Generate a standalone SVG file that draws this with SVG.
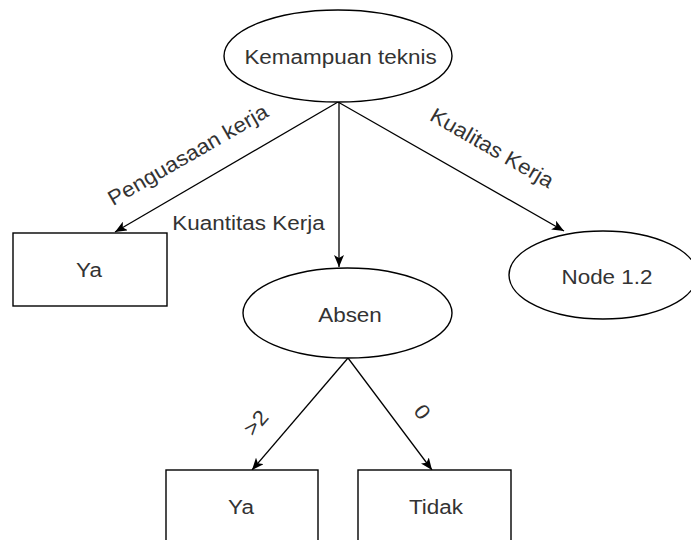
<svg xmlns="http://www.w3.org/2000/svg" width="691" height="540" viewBox="0 0 691 540">
  <style>
    .shape { fill: #ffffff; stroke: #000000; stroke-width: 1.4; }
    .edge { fill: none; stroke: #000000; stroke-width: 1.3; marker-end: url(#arrow); }
    .label { font-family: "Liberation Sans", Arial, sans-serif; font-size: 21px; fill: #333333; text-anchor: middle; }
  </style>
  <defs>
    <marker id="arrow" viewBox="0 0 12 10" refX="12" refY="5" markerWidth="12" markerHeight="10" markerUnits="userSpaceOnUse" orient="auto">
      <path d="M0,0 L12,5 L0,10 L3,5 Z" fill="#000000"/>
    </marker>
  </defs>
  <rect width="691" height="540" fill="#ffffff"/>

  <!-- connectors with their branch labels -->
  <g id="connectors">
    <line class="edge" x1="338" y1="102" x2="115" y2="232"/>
    <line class="edge" x1="339" y1="102" x2="339" y2="267"/>
    <line class="edge" x1="338" y1="102" x2="564" y2="231"/>
    <line class="edge" x1="348" y1="358" x2="252" y2="470"/>
    <line class="edge" x1="348" y1="358" x2="432" y2="470"/>
    <text class="label" transform="translate(188,155) rotate(-30) scale(1.07,1)" y="7">Penguasaan kerja</text>
    <text class="label" transform="translate(248.5,230) scale(1.07,1)">Kuantitas Kerja</text>
    <text class="label" transform="translate(492,148) rotate(30) scale(1.07,1)" y="7">Kualitas Kerja</text>
    <text class="label" transform="translate(256,423) rotate(-49) scale(1.07,1)" y="7">&gt;2</text>
    <text class="label" transform="translate(422,412) rotate(53) scale(1.07,1)" y="7">0</text>
  </g>

  <g id="node-kemampuan">
    <ellipse class="shape" cx="338" cy="56" rx="114" ry="46"/>
    <text class="label" transform="translate(340.5,64) scale(1.07,1)">Kemampuan teknis</text>
  </g>

  <g id="node-ya-1">
    <rect class="shape" x="13" y="233" width="154" height="73"/>
    <text class="label" transform="translate(89,277) scale(1.07,1)">Ya</text>
  </g>

  <g id="node-absen">
    <ellipse class="shape" cx="347.5" cy="313" rx="104.5" ry="45"/>
    <text class="label" transform="translate(350,322) scale(1.07,1)">Absen</text>
  </g>

  <g id="node-1-2">
    <ellipse class="shape" cx="603" cy="275" rx="94" ry="44"/>
    <text class="label" transform="translate(607,284) scale(1.07,1)">Node 1.2</text>
  </g>

  <g id="node-ya-2">
    <rect class="shape" x="166" y="470" width="152" height="73"/>
    <text class="label" transform="translate(241,514) scale(1.07,1)">Ya</text>
  </g>

  <g id="node-tidak">
    <rect class="shape" x="358" y="470" width="153" height="73"/>
    <text class="label" transform="translate(436,514) scale(1.07,1)">Tidak</text>
  </g>
</svg>
